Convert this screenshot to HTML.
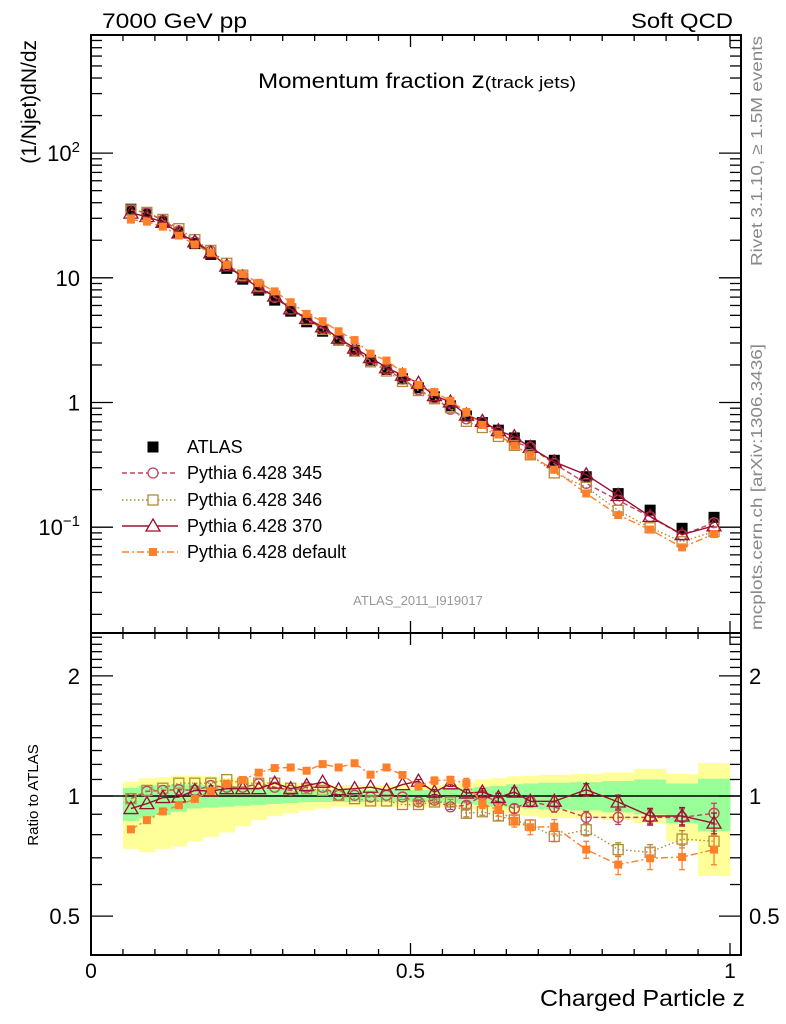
<!DOCTYPE html>
<html><head><meta charset="utf-8">
<style>
html,body{margin:0;padding:0;background:#fff;}
svg{display:block;font-family:"Liberation Sans","DejaVu Sans",sans-serif;}
</style></head>
<body>
<svg id="chart" width="786" height="1024" viewBox="0 0 786 1024" xmlns="http://www.w3.org/2000/svg">
<rect x="0" y="0" width="786" height="1024" fill="#fff"/>
<g id="bands"></g>
<g id="grid"></g>
<g id="series"></g>
<text x="102" y="28" font-size="21" textLength="145" lengthAdjust="spacingAndGlyphs">7000 GeV pp</text>
<text x="631" y="28" font-size="21" textLength="102" lengthAdjust="spacingAndGlyphs">Soft QCD</text>
<text x="258" y="88" font-size="21" textLength="318" lengthAdjust="spacingAndGlyphs">Momentum fraction <tspan font-size="23">z</tspan><tspan font-size="17">(track jets)</tspan></text>
<text transform="translate(36,40) rotate(-90)" font-size="21" text-anchor="end">(1/Njet)dN/dz</text>
<text transform="translate(38,795) rotate(-90)" font-size="15" text-anchor="middle">Ratio to ATLAS</text>
<text x="540" y="1006" font-size="23" textLength="205" lengthAdjust="spacingAndGlyphs">Charged Particle z</text>
<text transform="translate(762,36) rotate(-90)" font-size="16" fill="#888" text-anchor="end" textLength="230" lengthAdjust="spacingAndGlyphs">Rivet 3.1.10, ≥ 1.5M events</text>
<text transform="translate(762,344) rotate(-90)" font-size="16" fill="#888" text-anchor="end" textLength="286" lengthAdjust="spacingAndGlyphs">mcplots.cern.ch [arXiv:1306.3436]</text>
<text x="418" y="605" font-size="13" fill="#999" text-anchor="middle">ATLAS_2011_I919017</text>
<g id="legend"></g>
</svg>
<script>
const edges=[0.05,0.075,0.1,0.125,0.15,0.175,0.2,0.225,0.25,0.275,0.3,0.325,0.35,0.375,0.4,0.425,0.45,0.475,0.5,0.525,0.55,0.575,0.6,0.625,0.65,0.675,0.7,0.75,0.8,0.85,0.9,0.95,1.0];
const atlas=[35.5,32.4,28.1,23.0,18.8,15.4,11.9,9.75,7.96,6.62,5.40,4.44,3.73,3.16,2.62,2.18,1.84,1.55,1.31,1.11,0.94,0.78,0.69,0.60,0.52,0.45,0.344,0.254,0.186,0.137,0.098,0.12];
const r345=[0.985,1.027,1.033,1.037,1.033,1.062,1.052,1.052,1.073,1.052,1.033,1.052,1.052,1.004,1.004,0.994,1.004,0.994,0.966,0.976,0.939,0.948,1.004,0.966,0.930,0.970,0.939,0.884,0.884,0.884,0.884,0.905];
const r346=[0.985,1.033,1.046,1.077,1.077,1.077,1.099,1.077,1.077,1.077,1.046,1.043,1.033,1.004,0.985,0.972,0.972,0.952,0.952,0.966,0.966,0.905,0.913,0.891,0.871,0.846,0.792,0.823,0.734,0.723,0.780,0.770];
const r370=[0.930,0.957,0.991,0.994,1.033,1.029,1.043,1.043,1.043,1.077,1.043,1.062,1.083,1.037,1.043,1.052,1.033,1.068,1.089,1.023,1.073,1.017,1.023,0.991,1.023,0.970,0.970,1.037,0.966,0.891,0.891,0.855];
const rdef=[0.825,0.870,0.915,0.948,0.983,1.029,1.073,1.097,1.144,1.175,1.179,1.157,1.202,1.179,1.208,1.131,1.179,1.129,1.056,1.093,1.097,1.077,0.957,0.922,0.866,0.835,0.838,0.734,0.673,0.698,0.703,0.734];
const mcErr=[0,0,0,0,0,0,0,0,0,0,0,0,0,0,0,0,0,0,0.01,0.015,0.015,0.02,0.02,0.025,0.025,0.03,0.03,0.035,0.04,0.045,0.05,0.06];
const yelHi=[1.087,1.108,1.114,1.125,1.125,1.12,1.11,1.1,1.093,1.085,1.08,1.075,1.07,1.065,1.065,1.065,1.065,1.065,1.065,1.065,1.07,1.08,1.1,1.11,1.12,1.125,1.13,1.135,1.146,1.17,1.135,1.21];
const grnHi=[1.048,1.062,1.066,1.07,1.07,1.065,1.06,1.055,1.052,1.048,1.045,1.04,1.04,1.035,1.035,1.035,1.035,1.035,1.035,1.035,1.04,1.045,1.055,1.06,1.07,1.075,1.08,1.083,1.09,1.1,1.075,1.105];
const grnLo=[0.866,0.879,0.896,0.913,0.930,0.935,0.94,0.945,0.95,0.955,0.96,0.965,0.966,0.966,0.966,0.966,0.966,0.966,0.966,0.966,0.96,0.955,0.95,0.94,0.935,0.93,0.925,0.92,0.91,0.9,0.855,0.815];
const yelLo=[0.737,0.723,0.737,0.748,0.77,0.79,0.81,0.84,0.87,0.89,0.905,0.92,0.93,0.94,0.94,0.94,0.94,0.94,0.94,0.94,0.935,0.93,0.92,0.91,0.9,0.89,0.88,0.88,0.87,0.855,0.77,0.63];
const mainTickVals=[10,100,0.1,1];
const mainTickBase=["10","10","10","1"];
const mainTickExp=["","2","−1",""];
const ratioTickVals=[0.5,1,2];
const ratioTickLabels=["0.5","1","2"];
const xTickVals=[0,0.5,1];
const xTickLabels=["0","0.5","1"];

const NS="http://www.w3.org/2000/svg";
const L=91,R=741,T=35,MB=633,RB=955;
function X(z){return 91+639*z;}
function YM(v){return 402.5-124.7*Math.log10(v);}
function YR(r){return 796-399*Math.log10(r);}
function mk(tag,attrs,parent){const e=document.createElementNS(NS,tag);for(const k in attrs)e.setAttribute(k,attrs[k]);parent.appendChild(e);return e;}
const bands=document.getElementById('bands'),grid=document.getElementById('grid'),ser=document.getElementById('series'),leg=document.getElementById('legend');
const centers=atlas.map((_,i)=>(edges[i]+edges[i+1])/2);

for(let i=0;i<atlas.length;i++){
  const x0=X(edges[i]),x1=X(edges[i+1]);
  const y=mk('rect',{x:x0,y:YR(yelHi[i]),width:x1-x0+0.4,height:YR(yelLo[i])-YR(yelHi[i]),fill:'#ffff99'},bands);
  
  
  const g=mk('rect',{x:x0,y:YR(grnHi[i]),width:x1-x0+0.4,height:YR(grnLo[i])-YR(grnHi[i]),fill:'#99ff99'},bands);
  
  
}

const f1=mk('rect',{x:L,y:T,width:R-L,height:MB-T,fill:'none',stroke:'#000','stroke-width':2},grid);


const f2=mk('rect',{x:L,y:MB,width:R-L,height:RB-MB,fill:'none',stroke:'#000','stroke-width':2},grid);


const one=mk('line',{x1:L,x2:R,y1:YR(1),y2:YR(1),stroke:'#000','stroke-width':1.5},grid);



function tick(x1,y1,x2,y2){mk('line',{x1,y1,x2,y2,stroke:'#000','stroke-width':1.3},grid);}
for(let k=0;k<=20;k++){const z=k*0.05,x=X(z),len=(k%10===0)?12:6;
  tick(x,T,x,T+len);tick(x,MB,x,MB-len);tick(x,MB,x,MB+len);tick(x,RB,x,RB-len);}
xTickVals.forEach((v,i)=>{const t=mk('text',{x:X(v),y:978,'font-size':21,'text-anchor':'middle'},grid);t.textContent=xTickLabels[i];
  
  });
for(let d=-2;d<=2;d++)for(let m=1;m<=9;m++){const v=m*Math.pow(10,d),y=YM(v);if(y<T||y>MB)continue;
  const len=m===1?22:11;tick(L,y,L+len,y);tick(R,y,R-len,y);}
mainTickVals.forEach((v,i)=>{
  const t=mk('text',{x:80,y:YM(v)+8,'font-size':22,'text-anchor':'end'},grid);
  
  
  if(mainTickExp[i]){
    const b=mk('tspan',{},t);b.textContent=mainTickBase[i];
    const e=mk('tspan',{'font-size':15,dy:-9},t);e.textContent=mainTickExp[i];
  } else t.textContent=mainTickBase[i];});
for(let k=4;k<=25;k++){const r=k/10,y=YR(r);if(y<MB||y>RB)continue;const maj=(k===5||k===10||k===20);
  const len=maj?22:11;tick(L,y,L+len,y);tick(R,y,R-len,y);}
ratioTickVals.forEach((v,i)=>{const t=mk('text',{x:80,y:YR(v)+8,'font-size':22,'text-anchor':'end'},grid);t.textContent=ratioTickLabels[i];
  
  
  const t2=mk('text',{x:749,y:YR(v)+8,'font-size':22},grid);t2.textContent=ratioTickLabels[i];
  
  });

function marker(type,x,y,col,parent,s){
  s=s||5;let e;
  if(type==='sq')e=mk('rect',{x:x-s,y:y-s,width:2*s,height:2*s,fill:col},parent);
  else if(type==='fsq')e=mk('rect',{x:x-4,y:y-4,width:8,height:8,fill:col},parent);
  else if(type==='osq')e=mk('rect',{x:x-5,y:y-5,width:10,height:10,fill:'none',stroke:col,'stroke-width':1.3},parent);
  else if(type==='circ')e=mk('circle',{cx:x,cy:y,r:5,fill:'none',stroke:col,'stroke-width':1.3},parent);
  else e=mk('path',{d:`M${x},${y-7}L${x+7},${y+5}L${x-7},${y+5}Z`,fill:'none',stroke:col,'stroke-width':1.3},parent);
  return e;
}
const mcs=[
 {name:'pythia-345',ratio:r345,col:'#c3425e',dash:'5,3',mk:'circ',label:'Pythia 6.428 345'},
 {name:'pythia-346',ratio:r346,col:'#b38a3c',dash:'1.5,2.5',mk:'osq',label:'Pythia 6.428 346'},
 {name:'pythia-370',ratio:r370,col:'#9b1030',dash:'',mk:'tri',label:'Pythia 6.428 370'},
 {name:'pythia-default',ratio:rdef,col:'#ff7f2a',dash:'7,3,2,3',mk:'fsq',label:'Pythia 6.428 default'}];

const ag=mk('g',{},ser);


atlas.forEach((v,i)=>{const e=marker('sq',X(centers[i]),YM(v),'#000',ag,5.5);
  
  });

mcs.forEach(s=>{
  const gm=mk('g',{},ser);
  
  
  const gr=mk('g',{},ser);
  
  
  const pm=atlas.map((a,i)=>X(centers[i])+','+YM(a*s.ratio[i])).join(' ');
  const pr=s.ratio.map((r,i)=>X(centers[i])+','+YR(r)).join(' ');
  const a={fill:'none',stroke:s.col,'stroke-width':1.4};if(s.dash)a['stroke-dasharray']=s.dash;
  mk('polyline',Object.assign({points:pm},a),gm);
  mk('polyline',Object.assign({points:pr},a),gr);
  s.ratio.forEach((r,i)=>{
    const x=X(centers[i]);
    const e1=marker(s.mk,x,YM(atlas[i]*r),s.col,gm);
    
    
    const er=mcErr[i]*(s.name==='pythia-default'?1.4:1);
    if(er>0){mk('line',{x1:x,x2:x,y1:YR(r*(1+er)),y2:YR(r*(1-er)),stroke:s.col,'stroke-width':1.3},gr);
      mk('line',{x1:x-3,x2:x+3,y1:YR(r*(1+er)),y2:YR(r*(1+er)),stroke:s.col,'stroke-width':1.3},gr);
      mk('line',{x1:x-3,x2:x+3,y1:YR(r*(1-er)),y2:YR(r*(1-er)),stroke:s.col,'stroke-width':1.3},gr);}
    const e2=marker(s.mk,x,YR(r),s.col,gr);
    
    
  });
});

const rows=[447,473,500,526,552];
const l0=mk('g',{},leg);


marker('sq',153,rows[0],'#000',l0,5.5);
const t0=mk('text',{x:187,y:rows[0]+6,'font-size':18},l0);t0.textContent='ATLAS';
mcs.forEach((s,i)=>{
  const g=mk('g',{},leg);
  
  
  const a={x1:122,x2:178,y1:rows[i+1],y2:rows[i+1],stroke:s.col,'stroke-width':1.4};if(s.dash)a['stroke-dasharray']=s.dash;
  mk('line',a,g);
  const m=marker(s.mk,153,rows[i+1],s.col,g);
  if(s.mk!=='fsq')m.setAttribute('fill','#fff');
  const t=mk('text',{x:187,y:rows[i+1]+6,'font-size':18},g);t.textContent=s.label;
});
</script>
</body></html>
